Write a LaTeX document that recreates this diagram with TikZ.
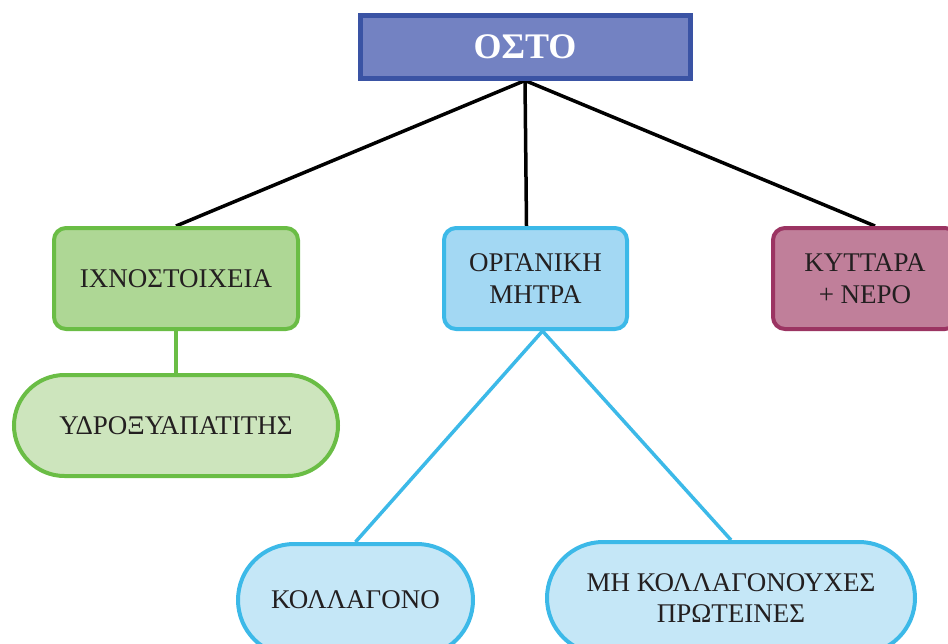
\documentclass[tikz,border=0pt]{standalone}
\usepackage{fontspec}
\setmainfont{Liberation Serif}
\usetikzlibrary{shapes.misc,backgrounds,calc}
\definecolor{topfill}{HTML}{7382C2}
\definecolor{topdraw}{HTML}{3A53A4}
\definecolor{gfill}{HTML}{AED795}
\definecolor{gfillb}{HTML}{CDE5BD}
\definecolor{gdraw}{HTML}{6ABD45}
\definecolor{bfill}{HTML}{A3D8F3}
\definecolor{bfillb}{HTML}{C5E7F7}
\definecolor{bdraw}{HTML}{3CB9E8}
\definecolor{pfill}{HTML}{C07F9A}
\definecolor{pdraw}{HTML}{9B3462}
\definecolor{txt}{HTML}{231F20}
\tikzset{
  box/.style={rectangle, rounded corners=12pt, line width=4pt, align=center,
    inner sep=0pt, font=\fontsize{27}{32}\selectfont, text=txt},
  pill/.style={rounded rectangle, line width=4pt, align=center,
    inner sep=0pt, font=\fontsize{27}{31}\selectfont, text=txt},
  link/.style={line width=3.5pt},
}
\begin{document}
\begin{tikzpicture}[x=1pt,y=-1pt]
\useasboundingbox (0,0) rectangle (948,643);
\clip (0,0) rectangle (948,643);
\node[rectangle, fill=topfill, draw=topdraw, line width=5pt, minimum width=330pt, minimum height=63pt,
  font=\fontsize{36}{40}\selectfont\bfseries, text=white] (bone) at (525,46.5) {ΟΣΤΟ};
\node[box, fill=gfill, draw=gdraw, minimum width=244pt, minimum height=101pt] (trace) at (176,278.5) {ΙΧΝΟΣΤΟΙΧΕΙΑ};
\node[box, fill=bfill, draw=bdraw, minimum width=183pt, minimum height=101pt] (org) at (535.5,278.5) {ΟΡΓΑΝΙΚΗ\\ΜΗΤΡΑ};
\node[box, fill=pfill, draw=pdraw, minimum width=184pt, minimum height=101pt] (cell) at (865,278.5) {ΚΥΤΤΑΡΑ\\+ ΝΕΡΟ};
\node[pill, fill=gfillb, draw=gdraw, minimum width=324pt, minimum height=101pt] (hydro) at (176,425.5) {ΥΔΡΟΞΥΑΠΑΤΙΤΗΣ};
\node[pill, fill=bfillb, draw=bdraw, minimum width=235pt, minimum height=112pt] (coll) at (355.5,600) {ΚΟΛΛΑΓΟΝΟ};
\node[pill, fill=bfillb, draw=bdraw, minimum width=368pt, minimum height=112pt] (noncoll) at (731,598) {ΜΗ ΚΟΛΛΑΓΟΝΟΥΧΕΣ\\ΠΡΩΤΕΙΝΕΣ};
\begin{scope}[on background layer]
\draw[link] (bone.south) -- (trace.north);
\draw[link] (bone.south) -- ($(org.north)+(-9,0)$);
\draw[link] (bone.south) -- ($(cell.north)+(10,0)$);
\draw[link, gdraw] (trace.south) -- (hydro.north);
\draw[link, bdraw] ($(org.south)+(7,0)$) -- (coll.north);
\draw[link, bdraw] ($(org.south)+(7,0)$) -- (noncoll.north);
\end{scope}
\end{tikzpicture}
\end{document}
